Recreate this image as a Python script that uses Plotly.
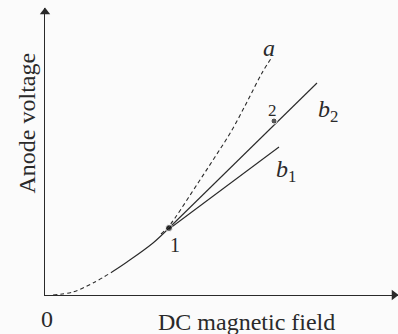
import plotly.graph_objects as go

# data (arbitrary units)
low_dash_x = [0.8, 2.8, 4.8, 6.7]
low_dash_y = [0.0, 0.3, 1.2, 2.3]
low_solid_x = [6.7, 8.2, 10.8, 12.4]
low_solid_y = [2.3, 3.3, 5.2, 6.7]
a_x = [11.6, 12.4, 13.0, 15.3, 17.0, 18.7, 20.3, 21.7, 22.7]
a_y = [6.1, 6.9, 7.7, 11.2, 13.8, 16.5, 19.5, 22.2, 23.8]
b1_x = [12.4, 23.4]
b1_y = [6.6, 14.8]
b2_x = [12.4, 27.2]
b2_y = [6.7, 21.2]
pts_x = [12.4, 22.9]
pts_y = [6.7, 17.4]
x_max = 35.3
y_max = 28.7

ink = "#2a2a2a"
serif = "Liberation Serif, Times New Roman, serif"

fig = go.Figure()
fig.add_trace(go.Scatter(x=low_dash_x, y=low_dash_y, mode="lines", line=dict(color=ink, width=1.1, dash="4px,3px", shape="spline")))
fig.add_trace(go.Scatter(x=low_solid_x, y=low_solid_y, mode="lines", line=dict(color=ink, width=1.1, shape="spline")))
fig.add_trace(go.Scatter(x=a_x, y=a_y, mode="lines", line=dict(color=ink, width=1.1, dash="4px,3px", shape="spline")))
fig.add_trace(go.Scatter(x=b1_x, y=b1_y, mode="lines", line=dict(color=ink, width=1.1)))
fig.add_trace(go.Scatter(x=b2_x, y=b2_y, mode="lines", line=dict(color=ink, width=1.1)))
fig.add_trace(go.Scatter(x=pts_x, y=pts_y, mode="markers", marker=dict(color="#111", size=[7, 6])))
# axis arrowheads
fig.add_trace(go.Scatter(x=[x_max - 0.4, 0], y=[0, y_max - 0.4], mode="markers", cliponaxis=False,
                         marker=dict(color=ink, size=9, symbol=["triangle-right", "triangle-up"])))

ann = []

def lab(x, y, t, size=24, angle=0, ref="data"):
    r = ("x", "y") if ref == "data" else ("paper", "paper")
    ann.append(dict(x=x, y=y, xref=r[0], yref=r[1], text=t, showarrow=False, textangle=angle,
                    font=dict(family=serif, size=size, color=ink), xanchor="center", yanchor="middle"))

lab(22.4, 24.7, "<i>a</i>")
lab(28.3, 18.4, "<i>b</i><sub>2</sub>")
lab(24.1, 12.4, "<i>b</i><sub>1</sub>")
lab(13.0, 5.0, "1", size=20)
lab(22.7, 18.5, "2", size=17)
lab(0.007, -0.085, "0", ref="paper")
lab(0.572, -0.094, "DC magnetic field", ref="paper")
lab(-0.051, 0.601, "Anode voltage", angle=-90, ref="paper")

axis_common = dict(showline=True, linecolor=ink, linewidth=1.3, showgrid=False, zeroline=False,
                   showticklabels=False, ticks="", fixedrange=True)
fig.update_layout(
    width=398, height=334,
    margin=dict(l=45, r=0, t=8, b=39),
    paper_bgcolor="#fbfbfb", plot_bgcolor="#fbfbfb",
    showlegend=False,
    annotations=ann,
    xaxis=dict(range=[0, x_max], **axis_common),
    yaxis=dict(range=[0, y_max], **axis_common),
)
fig.write_html("out.html", config={"displayModeBar": False})
